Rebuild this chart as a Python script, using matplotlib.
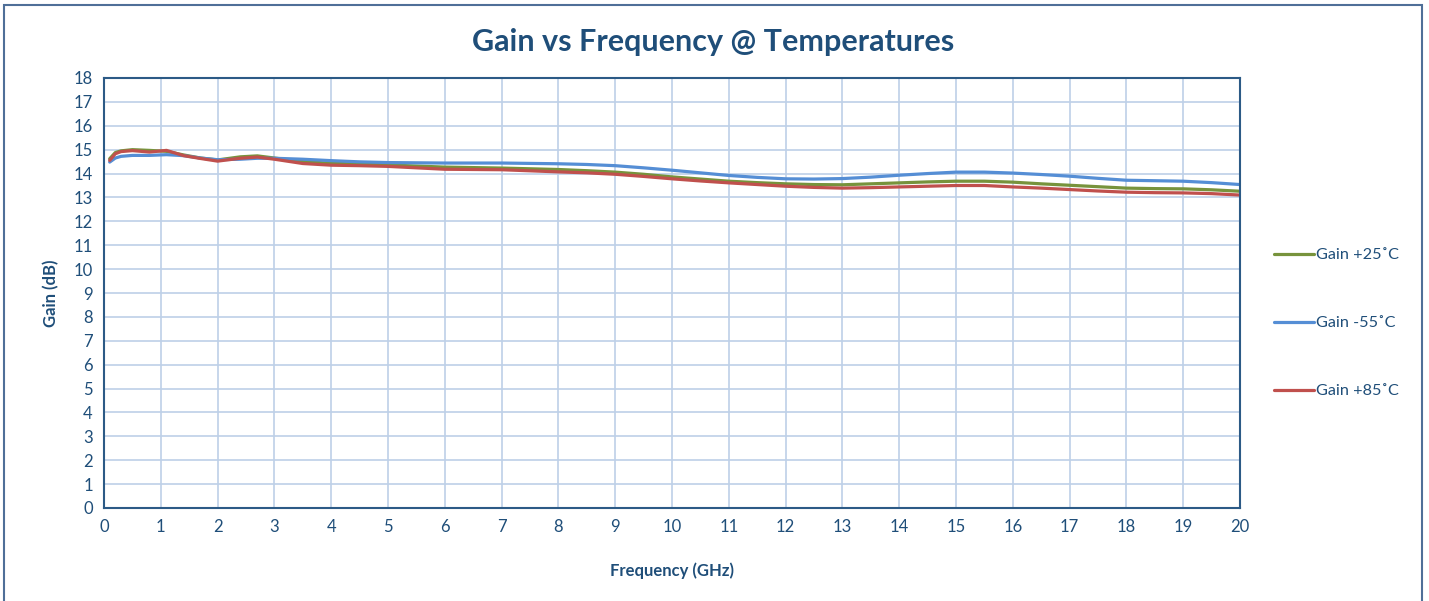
import matplotlib
matplotlib.use("Agg")
import matplotlib.pyplot as plt
from matplotlib.patches import Rectangle

freq = [0.1, 0.2, 0.3, 0.5, 0.8, 1.1, 1.4, 1.7, 2.0, 2.4, 2.7, 3.0, 3.5, 4.0, 4.5, 5.0,
        6, 7, 8, 8.5, 9, 9.5, 10, 10.5, 11, 11.5, 12, 12.5, 13, 13.5, 14, 14.5, 15, 15.5,
        16, 16.5, 17, 17.5, 18, 18.5, 19, 19.5, 20]

gain_p25 = [14.62, 14.88, 14.95, 15.0, 14.97, 14.93, 14.78, 14.65, 14.57, 14.70, 14.74, 14.65,
            14.50, 14.43, 14.40, 14.36, 14.27, 14.23, 14.17, 14.12, 14.06, 13.97, 13.86, 13.77,
            13.68, 13.62, 13.57, 13.54, 13.53, 13.57, 13.61, 13.65, 13.68, 13.68, 13.64, 13.57,
            13.51, 13.45, 13.39, 13.37, 13.36, 13.32, 13.26]

gain_m55 = [14.48, 14.65, 14.72, 14.76, 14.76, 14.79, 14.75, 14.65, 14.58, 14.60, 14.64, 14.64,
            14.60, 14.54, 14.49, 14.46, 14.44, 14.44, 14.41, 14.38, 14.33, 14.24, 14.14, 14.03,
            13.92, 13.84, 13.78, 13.77, 13.79, 13.85, 13.93, 14.00, 14.06, 14.06, 14.02, 13.96,
            13.89, 13.80, 13.72, 13.70, 13.68, 13.62, 13.54]

gain_p85 = [14.55, 14.83, 14.92, 14.96, 14.90, 14.97, 14.75, 14.63, 14.52, 14.64, 14.69, 14.60,
            14.42, 14.35, 14.33, 14.30, 14.18, 14.16, 14.07, 14.03, 13.97, 13.88, 13.78, 13.69,
            13.61, 13.54, 13.47, 13.42, 13.39, 13.41, 13.44, 13.47, 13.50, 13.50, 13.44, 13.39,
            13.33, 13.27, 13.22, 13.20, 13.19, 13.16, 13.10]

labels = ["Gain +25˚C", "Gain -55˚C", "Gain +85˚C"]
title = "Gain vs Frequency @ Temperatures"

txt = "#1F4E79"
spine = "#2C5A86"
grid = "#BED0E8"
colors = ["#77933C", "#558ED5", "#C0504D"]

plt.rcParams['font.family'] = ['Lato', 'DejaVu Sans']

fig = plt.figure(figsize=(14.29, 6.01), dpi=100)
ax = fig.add_axes([104/1429, 1 - 508/601, (1240 - 104)/1429, (508 - 78)/601])

for y, c, l in zip([gain_p25, gain_m55, gain_p85], colors, labels):
    ax.plot(freq, y, color=c, lw=2.3, label=l, solid_capstyle='round')

ax.set_xlim(0, 20)
ax.set_ylim(0, 18)
ax.set_xticks(range(0, 21))
ax.set_yticks(range(0, 19))
ax.grid(True, color=grid, lw=1.2)
ax.set_axisbelow(True)
ax.tick_params(length=0, labelsize=12, colors=txt, pad=8)
for s in ax.spines.values():
    s.set_color(spine)
    s.set_linewidth(1.5)

ax.set_xlabel("Frequency (GHz)", fontsize=12, fontweight='bold', color=txt, labelpad=20)
ax.set_ylabel("Gain (dB)", fontsize=12, fontweight='bold', color=txt, labelpad=10)

fig.text(0.499, 1 - 42/601, title, ha='center', va='center', fontsize=22,
         fontweight='bold', color=txt)

leg = ax.legend(loc='center left', bbox_to_anchor=(1259/1429, 1 - 323/601),
                bbox_transform=fig.transFigure, frameon=False, fontsize=11.7,
                handlelength=2.5, handletextpad=0.1, labelspacing=3.3)
for t in leg.get_texts():
    t.set_color(txt)

fig.add_artist(Rectangle((4/1429, -0.01), (1422 - 4)/1429, 1 - 5/601 + 0.01,
                         transform=fig.transFigure, fill=False,
                         edgecolor="#4F6F98", lw=1.5))

fig.savefig("out.png", dpi=100, facecolor='white')
